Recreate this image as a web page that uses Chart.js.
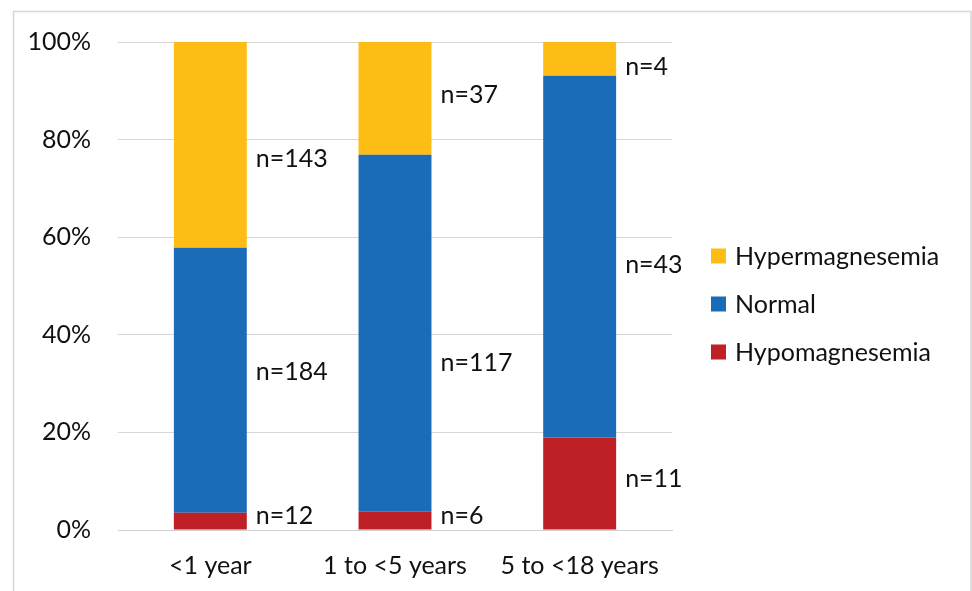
<!DOCTYPE html>
<html>
<head>
<meta charset="utf-8">
<script src="https://cdn.jsdelivr.net/npm/chart.js@4"></script>
<style>
  html, body { margin: 0; padding: 0; background: #ffffff; }
  #wrap { width: 972px; height: 591px; }
</style>
</head>
<body>
<div id="wrap"><canvas id="chart" width="972" height="591"></canvas></div>
<script>
// Age groups on the x axis
const ageGroups = ['<1 year', '1 to <5 years', '5 to <18 years'];

// Patient counts per magnesium status and age group
const hypoCounts   = [12, 6, 11];
const normalCounts = [184, 117, 43];
const hyperCounts  = [143, 37, 4];

// Y axis tick values (percent)
const yTicks = [0, 20, 40, 60, 80, 100];

// Share of each age group, in percent
const groupTotals = ageGroups.map((_, i) => hypoCounts[i] + normalCounts[i] + hyperCounts[i]);
const toPercent = counts => counts.map((c, i) => 100 * c / groupTotals[i]);

const FONT = 'Lato, "Open Sans", sans-serif';
const TEXT = '#111111';

// White page with a thin grey frame
const framePlugin = {
  id: 'frame',
  beforeDraw(chart) {
    const ctx = chart.ctx;
    ctx.save();
    ctx.fillStyle = '#ffffff';
    ctx.fillRect(0, 0, chart.width, chart.height);
    ctx.strokeStyle = '#d6d6d6';
    ctx.lineWidth = 1.5;
    ctx.strokeRect(13.5, 11.5, 957.5, 640);
    ctx.restore();
  }
};

// "n=…" labels to the right of each bar segment
const countLabelPlugin = {
  id: 'countLabels',
  afterDatasetsDraw(chart, args, opts) {
    const ctx = chart.ctx;
    ctx.save();
    ctx.font = `${opts.size}px ${FONT}`;
    ctx.fillStyle = TEXT;
    ctx.textAlign = 'left';
    ctx.textBaseline = 'middle';
    chart.data.datasets.forEach((ds, di) => {
      const meta = chart.getDatasetMeta(di);
      meta.data.forEach((bar, i) => {
        const x = bar.x + bar.width / 2 + opts.gap;
        const y = (bar.y + bar.base) / 2 + opts.nudge[di][i];
        ctx.fillText('n=' + ds.counts[i], x, y);
      });
    });
    ctx.restore();
  }
};

// Legend on the right, top series first
const sideLegendPlugin = {
  id: 'sideLegend',
  afterDraw(chart, args, opts) {
    const ctx = chart.ctx;
    ctx.save();
    ctx.font = `${opts.size}px ${FONT}`;
    ctx.textAlign = 'left';
    ctx.textBaseline = 'middle';
    const items = chart.data.datasets.slice().reverse();
    items.forEach((ds, k) => {
      const cy = opts.top + k * opts.step;
      ctx.fillStyle = ds.backgroundColor;
      ctx.fillRect(opts.left, cy - opts.box / 2, opts.box, opts.box);
      ctx.fillStyle = TEXT;
      ctx.fillText(ds.label, opts.left + opts.box + 9, cy + 1);
    });
    ctx.restore();
  }
};

new Chart(document.getElementById('chart'), {
  type: 'bar',
  data: {
    labels: ageGroups,
    datasets: [
      { label: 'Hypomagnesemia', data: toPercent(hypoCounts), counts: hypoCounts, backgroundColor: '#be2026' },
      { label: 'Normal', data: toPercent(normalCounts), counts: normalCounts, backgroundColor: '#1b6cb8' },
      { label: 'Hypermagnesemia', data: toPercent(hyperCounts), counts: hyperCounts, backgroundColor: '#fdbd14' }
    ]
  },
  options: {
    responsive: false,
    animation: false,
    layout: { padding: { top: 38, right: 300, bottom: 0, left: 0 } },
    datasets: {
      bar: { categoryPercentage: 1, barPercentage: 0.395, borderWidth: 0 }
    },
    scales: {
      x: {
        stacked: true,
        grid: { display: false, drawTicks: false },
        border: { display: true, color: '#d0d0d0', width: 1 },
        ticks: { color: TEXT, font: { family: FONT, size: 25 }, padding: 21, maxRotation: 0 },
        afterFit(scale) { scale.height = 61; }
      },
      y: {
        stacked: true,
        min: 0,
        max: 100,
        afterBuildTicks(scale) { scale.ticks = yTicks.map(v => ({ value: v })); },
        grid: { color: '#d6d6d6', lineWidth: 1, drawTicks: false },
        border: { display: false },
        ticks: {
          color: TEXT,
          font: { family: FONT, size: 25 },
          padding: 27,
          callback: v => v + '%'
        },
        afterFit(scale) { scale.width = 118; }
      }
    },
    plugins: {
      legend: { display: false },
      tooltip: { enabled: false },
      countLabels: {
        size: 25,
        gap: 9,
        nudge: [
          [-5, -5, -5],
          [-8, 30, 8],
          [14, -3, 8]
        ]
      },
      sideLegend: { size: 25, left: 711, top: 256, step: 48, box: 15 }
    }
  },
  plugins: [framePlugin, countLabelPlugin, sideLegendPlugin]
});
</script>
</body>
</html>
